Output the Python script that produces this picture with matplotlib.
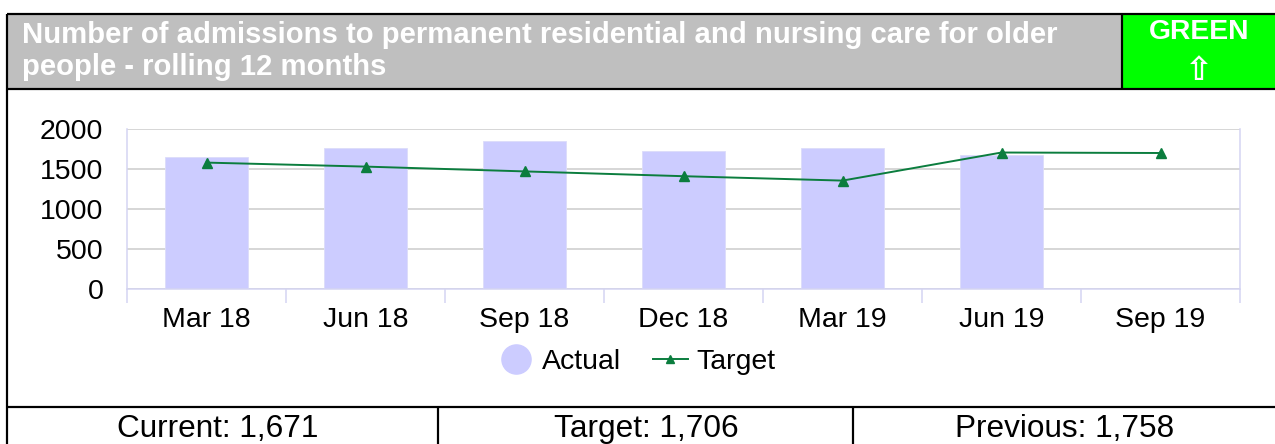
import numpy as np
import matplotlib
matplotlib.use("Agg")
import matplotlib.pyplot as plt
from matplotlib.patches import Rectangle
from matplotlib.lines import Line2D

# ---- data ----
categories = ["Mar 18", "Jun 18", "Sep 18", "Dec 18", "Mar 19", "Jun 19", "Sep 19"]
actual = [1650, 1760, 1850, 1720, 1758, 1671]          # no actual yet for Sep 19
target = [1580, 1530, 1470, 1410, 1355, 1706, 1700]
y_ticks = [0, 500, 1000, 1500, 2000]

title = ("Number of admissions to permanent residential and nursing care for older\n"
         "people - rolling 12 months")
rag_status = "GREEN"
summary = ["Current: 1,671", "Target: 1,706", "Previous: 1,758"]

# ---- styling ----
FONT = "Liberation Sans"
BAR_COLOR = "#CCCCFF"
LINE_COLOR = "#0B7D3E"
AXIS_COLOR = "#D4D4F2"
GRID_COLOR = "#D3D3D3"
HEADER_GRAY = "#BFBFBF"
RAG_GREEN = "#00FF00"

W, H = 1275, 444
fig = plt.figure(figsize=(W / 100, H / 100), dpi=100)

# overlay in pixel units for the panel frame, header and summary row
frame = fig.add_axes([0, 0, 1, 1])
frame.set_xlim(0, W)
frame.set_ylim(H, 0)
frame.axis("off")

frame.add_patch(Rectangle((7, 14), W - 7, 75, facecolor=HEADER_GRAY, edgecolor="none"))
frame.add_patch(Rectangle((1122, 14), W - 1122, 75, facecolor=RAG_GREEN, edgecolor="none"))
lw_px = 2.2 * 72 / 100
frame.plot([7, W], [14, 14], color="black", lw=lw_px, solid_capstyle="butt")
frame.plot([7, W], [89, 89], color="black", lw=lw_px, solid_capstyle="butt")
frame.plot([7, W], [407, 407], color="black", lw=lw_px, solid_capstyle="butt")
frame.plot([7, 7], [14, H], color="black", lw=lw_px, solid_capstyle="butt")
frame.plot([1122, 1122], [14, 89], color="black", lw=lw_px, solid_capstyle="butt")
frame.plot([438, 438], [407, H], color="black", lw=lw_px, solid_capstyle="butt")
frame.plot([853, 853], [407, H], color="black", lw=lw_px, solid_capstyle="butt")

frame.text(22, 21, title, ha="left", va="top", color="white", fontsize=21.1,
           fontweight="bold", family=FONT, linespacing=1.2)
frame.text(1199, 32, rag_status, ha="center", va="center", color="white",
           fontsize=20.3, fontweight="bold", family=FONT)
frame.text(1199, 71, "\u21E7", ha="center", va="center", color="white",
           fontsize=24, fontweight="bold", family="DejaVu Sans")

col_centers = [218, (438 + 853) / 2 + 1, (853 + W) / 2 + 1]
for cx, s in zip(col_centers, summary):
    frame.text(cx, 437, s, ha="center", va="baseline", color="black",
               fontsize=22.7, family=FONT)

# ---- chart ----
ax = fig.add_axes([127 / W, (H - 289) / H, (1240 - 127) / W, 160 / H])
x_all = np.arange(len(categories))
ax.bar(x_all[:len(actual)], actual, width=0.52, color=BAR_COLOR,
       edgecolor="#DCDCFA", linewidth=0.6, zorder=2)
ax.plot(x_all, target, color=LINE_COLOR, lw=1.4, marker="^", markersize=7.5,
        zorder=3)

ax.set_xlim(-0.5, len(categories) - 0.5)
ax.set_ylim(0, 2000)
ax.set_yticks(y_ticks)
ax.set_yticklabels([str(v) for v in y_ticks], family=FONT, fontsize=20.5)
ax.set_xticks(x_all)
ax.set_xticklabels(categories, family=FONT, fontsize=20.5)
ax.set_xticks(np.arange(-0.5, len(categories), 1), minor=True)
ax.tick_params(axis="x", which="major", length=0, pad=13)
ax.tick_params(axis="x", which="minor", length=10, width=1.1, color=AXIS_COLOR)
ax.tick_params(axis="y", length=0, pad=17)

ax.grid(axis="y", color=GRID_COLOR, lw=1.3, zorder=0)
ax.set_axisbelow(True)
for side in ["left", "right", "bottom"]:
    ax.spines[side].set_color(AXIS_COLOR)
    ax.spines[side].set_linewidth(1.1)
ax.spines["top"].set_visible(False)
ax.spines["bottom"].set_zorder(4)

handles = [
    Line2D([], [], linestyle="none", marker="o", markersize=21,
           markerfacecolor=BAR_COLOR, markeredgecolor=BAR_COLOR),
    Line2D([], [], color=LINE_COLOR, lw=1.4, marker="^", markersize=6),
]
fig.legend(handles, ["Actual", "Target"], loc="center",
           bbox_to_anchor=(637 / W, 1 - 362 / H), ncol=2, frameon=False,
           prop={"family": FONT, "size": 20.5}, handlelength=1.2,
           handletextpad=0.3, columnspacing=1.15)

fig.savefig("out.png", dpi=100)
